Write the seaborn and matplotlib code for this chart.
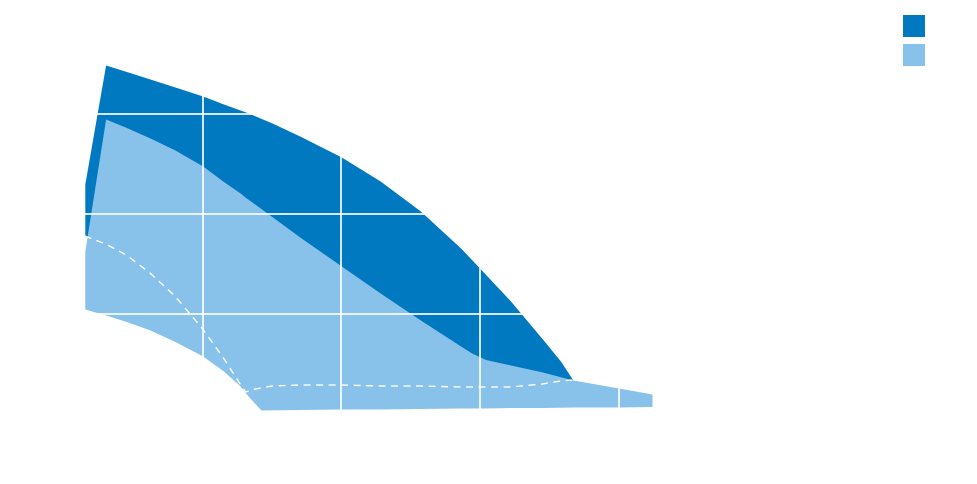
import matplotlib
matplotlib.use("Agg")
import matplotlib.pyplot as plt
from matplotlib.patches import Patch
import seaborn as sns
import pandas as pd

# ---- data (arbitrary units: one grid step = 1) ----
dark_x = [0.15, 0.30, 0.45, 0.62, 0.80, 1.00, 1.15, 1.27, 1.31, 1.38, 1.50,
          1.70, 2.00, 2.28, 2.57, 2.86, 2.99, 3.22, 3.45, 3.58, 3.67]
dark_upper = [2.30, 3.49, 3.425, 3.35, 3.27, 3.18, 3.10, 3.04, 3.02, 2.98, 2.91,
              2.78, 2.57, 2.33, 2.03, 1.66, 1.47, 1.13, 0.75, 0.53, 0.34]
dark_lower = [1.78, 1.70, 1.59, 1.41, 1.18, 0.85, 0.56, 0.30, 0.22, 0.25, 0.28,
              0.29, 0.29, 0.28, 0.28, 0.27, 0.27, 0.27, 0.30, 0.33, 0.34]

light_x = [0.15, 0.30, 0.45, 0.62, 0.80, 1.00, 1.15, 1.27, 1.31, 1.36, 1.42,
           1.70, 2.00, 2.28, 2.57, 2.86, 2.94, 3.04, 3.22, 3.45, 3.67, 4.00, 4.24]
light_upper = [1.63, 2.95, 2.865, 2.76, 2.64, 2.48, 2.325, 2.21, 2.165, 2.115, 2.055,
               1.77, 1.48, 1.21, 0.94, 0.68, 0.61, 0.545, 0.49, 0.42, 0.34, 0.26, 0.20]
light_lower = [1.05, 0.99, 0.925, 0.84, 0.725, 0.58, 0.43, 0.28, 0.21, 0.13, 0.04,
               0.045, 0.05, 0.05, 0.055, 0.06, 0.06, 0.06, 0.065, 0.065, 0.07, 0.07, 0.075]

x_ticks = [0, 1, 2, 3, 4, 5, 6]
y_ticks = [0, 1, 2, 3, 4]

DARK = "#0079C1"
LIGHT = "#88C2EA"

sns.set_theme(style="white")
fig = plt.figure(figsize=(9.78, 4.85), dpi=100)
ax = fig.add_axes([64 / 978, 70 / 485, 832 / 978, 400 / 485])

ax.fill_between(dark_x, dark_lower, dark_upper, color=DARK, lw=0, zorder=1)
ax.fill_between(light_x, light_lower, light_upper, color=LIGHT, lw=0, zorder=1.1)

df_med = pd.DataFrame({"x": dark_x, "y": dark_lower})
sns.lineplot(data=df_med, x="x", y="y", ax=ax, color="white", lw=1.0,
             linestyle=(0, (5, 4)), sort=False, zorder=2)

ax.set_xlim(x_ticks[0], x_ticks[-1])
ax.set_ylim(y_ticks[0], y_ticks[-1])
ax.set_xticks(x_ticks)
ax.set_yticks(y_ticks)
ax.set_xticklabels([])
ax.set_yticklabels([])
ax.tick_params(length=0)
ax.set_xlabel("")
ax.set_ylabel("")
ax.set_axisbelow(False)
ax.grid(True, color="white", lw=1.2)
for s in ax.spines.values():
    s.set_visible(False)
ax.set_facecolor("none")

handles = [Patch(facecolor=DARK, edgecolor="none"), Patch(facecolor=LIGHT, edgecolor="none")]
fig.legend(handles, ["", ""], loc="upper left", bbox_to_anchor=(903 / 978, 1 - 16 / 485),
           frameon=False, fontsize=10, handlelength=1.584, handleheight=2.03,
           labelspacing=0.52, borderpad=0, borderaxespad=0, handletextpad=0.2)

fig.savefig("out.png", dpi=100, facecolor="white")
